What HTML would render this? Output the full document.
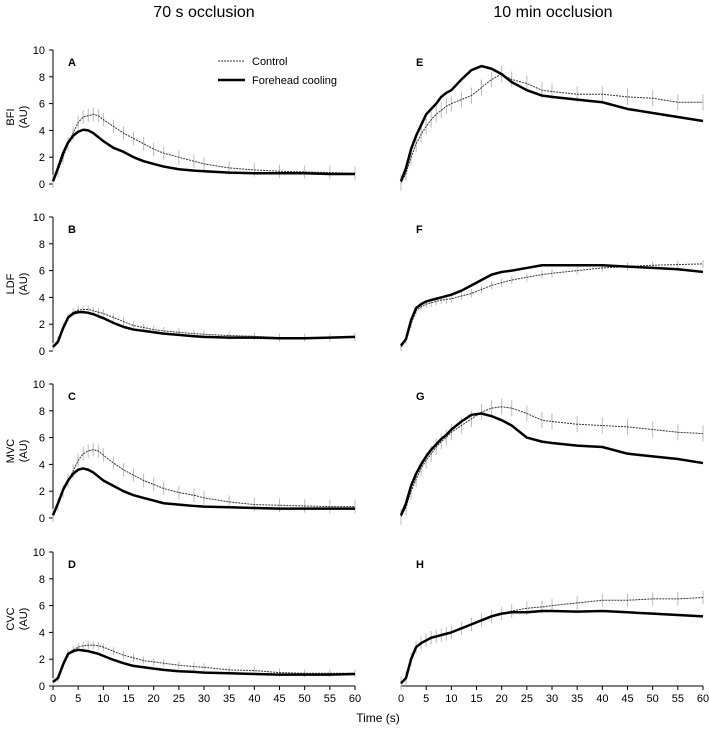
<!DOCTYPE html>
<html><head><meta charset="utf-8"><style>
body{margin:0;background:#fff;}
svg{display:block;font-family:"Liberation Sans",Arial,sans-serif;}
</style></head><body>
<svg id="chart" width="709" height="732"></svg>
<script>
const times=[0,1,2,3,4,5,6,7,8,9,10,12,14,16,18,20,22,25,28,30,35,40,45,50,55,60];
const xTicks=[0,5,10,15,20,25,30,35,40,45,50,55,60];
const yTicks=[0,2,4,6,8,10];
const labels=["A","B","C","D","E","F","G","H"];
const yTitles=["BFI","LDF","MVC","CVC"];
const ctrlA=[0.2,1,2,3,3.8,4.6,5.0,5.1,5.2,5.1,4.8,4.3,3.8,3.4,3.0,2.6,2.3,2.0,1.7,1.5,1.2,1.05,0.95,0.9,0.85,0.8];
const coolA=[0.2,1.2,2.3,3.1,3.6,3.9,4.05,4.0,3.8,3.5,3.2,2.7,2.4,2.0,1.7,1.5,1.3,1.1,1.0,0.95,0.85,0.8,0.8,0.8,0.75,0.75];
const ctrlB=[0.3,0.8,1.8,2.5,2.9,3.05,3.1,3.1,3.0,2.9,2.8,2.5,2.2,1.9,1.75,1.6,1.5,1.4,1.3,1.25,1.15,1.1,1.0,1.0,1.0,1.05];
const coolB=[0.3,0.7,1.7,2.5,2.8,2.9,2.9,2.85,2.75,2.6,2.45,2.1,1.8,1.6,1.5,1.4,1.3,1.2,1.1,1.05,1.0,1.0,0.95,0.95,1.0,1.05];
const ctrlC=[0.2,1.0,2.0,2.8,3.5,4.3,4.8,5.0,5.1,5.0,4.7,4.1,3.6,3.2,2.8,2.5,2.2,1.9,1.7,1.5,1.2,1.0,0.95,0.9,0.85,0.85];
const coolC=[0.2,1.1,2.1,2.8,3.3,3.6,3.7,3.6,3.4,3.1,2.8,2.4,2.0,1.7,1.5,1.3,1.1,1.0,0.9,0.85,0.8,0.75,0.7,0.7,0.7,0.7];
const ctrlD=[0.3,0.6,1.6,2.4,2.7,2.9,3.0,3.05,3.05,3.0,2.9,2.6,2.3,2.1,1.9,1.8,1.7,1.55,1.45,1.4,1.2,1.15,1.0,0.95,0.95,0.95];
const coolD=[0.3,0.6,1.6,2.4,2.6,2.7,2.65,2.6,2.5,2.4,2.25,1.95,1.7,1.5,1.4,1.3,1.2,1.1,1.05,1.0,0.95,0.9,0.85,0.85,0.85,0.9];
const ctrlE=[0.1,0.8,2.0,3.0,3.7,4.3,4.8,5.2,5.5,5.8,6.0,6.3,6.6,7.2,7.8,8.2,7.8,7.5,7.0,6.9,6.7,6.7,6.5,6.4,6.1,6.1];
const coolE=[0.2,1.2,2.6,3.6,4.4,5.2,5.6,6.0,6.5,6.8,7.0,7.8,8.5,8.8,8.6,8.2,7.6,7.0,6.6,6.5,6.3,6.1,5.6,5.3,5.0,4.7];
const ctrlF=[0.3,0.8,2.0,3.0,3.3,3.5,3.6,3.7,3.8,3.85,3.9,4.1,4.3,4.6,4.9,5.1,5.3,5.5,5.7,5.8,6.0,6.2,6.3,6.4,6.45,6.5];
const coolF=[0.4,0.9,2.3,3.2,3.5,3.7,3.8,3.9,4.0,4.1,4.2,4.5,4.9,5.3,5.7,5.9,6.0,6.2,6.4,6.4,6.4,6.4,6.3,6.2,6.1,5.9];
const ctrlG=[0.1,0.8,2.0,2.9,3.7,4.3,4.8,5.3,5.7,6.0,6.4,6.9,7.4,7.9,8.2,8.3,8.2,7.8,7.3,7.2,7.0,6.9,6.8,6.6,6.4,6.3];
const coolG=[0.2,1.1,2.4,3.3,4.0,4.6,5.1,5.5,5.9,6.2,6.6,7.2,7.7,7.8,7.6,7.3,6.9,6.0,5.7,5.6,5.4,5.3,4.8,4.6,4.4,4.1];
const ctrlH=[0.2,0.6,2.0,2.9,3.2,3.4,3.6,3.7,3.8,3.9,4.0,4.3,4.6,4.9,5.2,5.4,5.6,5.8,5.9,6.0,6.2,6.4,6.4,6.5,6.5,6.6];
const coolH=[0.2,0.6,2.0,2.9,3.2,3.4,3.6,3.7,3.8,3.9,4.0,4.3,4.6,4.9,5.2,5.4,5.5,5.5,5.6,5.6,5.55,5.6,5.5,5.4,5.3,5.2];
const errCtrl=[0.5,0.3,0.5,0.3,0.6,0.3,0.6,0.5];

const svg=document.getElementById('chart');
const NS='http://www.w3.org/2000/svg';
function mk(tag,attrs,parent){const e=document.createElementNS(NS,tag);for(const k in attrs)e.setAttribute(k,attrs[k]);(parent||svg).appendChild(e);return e;}
const ctrls=[ctrlA,ctrlB,ctrlC,ctrlD,ctrlE,ctrlF,ctrlG,ctrlH];
const cools=[coolA,coolB,coolC,coolD,coolE,coolF,coolG,coolH];
const colX0=[53,401], xW=302, rowY0=[184,351,518,686], yH=134;

let t;
t=mk('text',{x:204,y:17,'text-anchor':'middle','font-size':16});t.textContent='70 s occlusion';


t=mk('text',{x:553,y:17,'text-anchor':'middle','font-size':16});t.textContent='10 min occlusion';



for(let p=0;p<8;p++){
  const col=p<4?0:1,row=p%4;
  const X=v=>colX0[col]+v/60*xW;
  const Y=v=>rowY0[row]-v/10*yH;
  const g=mk('g',{});
  
  
  if(col===0){
    const ax=mk('line',{x1:X(0),x2:X(0),y1:Y(0),y2:Y(10),stroke:'#000','stroke-width':1},g);
    
    
    yTicks.forEach(v=>{
      mk('line',{x1:X(0)-4,x2:X(0),y1:Y(v),y2:Y(v),stroke:'#000'},g);
      const tt=mk('text',{x:X(0)-8,y:Y(v)+4,'text-anchor':'end','font-size':11},g);tt.textContent=v;
      
      
    });
    const yt=mk('text',{transform:`translate(14,${Y(5)}) rotate(-90)`,'text-anchor':'middle','font-size':11},g);
    yt.textContent=yTitles[row];
    
    
    const yu=mk('text',{transform:`translate(27,${Y(5)}) rotate(-90)`,'text-anchor':'middle','font-size':11},g);
    yu.textContent='(AU)';
    
    
  }
  if(row===3){
    const xa=mk('line',{x1:X(0),x2:X(60),y1:Y(0),y2:Y(0),stroke:'#000'},g);
    
    
    xTicks.forEach(v=>{
      mk('line',{x1:X(v),x2:X(v),y1:Y(0),y2:Y(0)+4,stroke:'#000'},g);
      const tt=mk('text',{x:X(v),y:Y(0)+16,'text-anchor':'middle','font-size':11},g);tt.textContent=v;
      
      
    });
  }
  const lb=mk('text',{x:X(0)+15,y:Y(10)+16,'font-size':11,'font-weight':'bold'},g);lb.textContent=labels[p];
  
  
  // error bars
  const c=ctrls[p];
  for(let i=0;i<times.length;i++){
    const eb=mk('line',{x1:X(times[i]),x2:X(times[i]),y1:Y(c[i]-errCtrl[p]),y2:Y(c[i]+errCtrl[p]),stroke:'#bbb','stroke-width':1},g);
    
    
  }
  const cl=mk('polyline',{points:times.map((v,i)=>X(v)+','+Y(c[i])).join(' '),fill:'none',stroke:'#333','stroke-width':1,'stroke-dasharray':'2,1'},g);
  
  
  const f=cools[p];
  const fl=mk('polyline',{points:times.map((v,i)=>X(v)+','+Y(f[i])).join(' '),fill:'none',stroke:'#000','stroke-width':2.5,'stroke-linejoin':'round'},g);
  
  
}
const lg=mk('g',{});


mk('line',{x1:218,x2:245,y1:61,y2:61,stroke:'#333','stroke-dasharray':'2,1'},lg);
t=mk('text',{x:252,y:65,'font-size':11},lg);t.textContent='Control';


mk('line',{x1:218,x2:245,y1:80,y2:80,stroke:'#000','stroke-width':2.5},lg);
t=mk('text',{x:252,y:84,'font-size':11},lg);t.textContent='Forehead cooling';


t=mk('text',{x:378,y:722,'text-anchor':'middle','font-size':12});t.textContent='Time (s)';


</script>
</body></html>
